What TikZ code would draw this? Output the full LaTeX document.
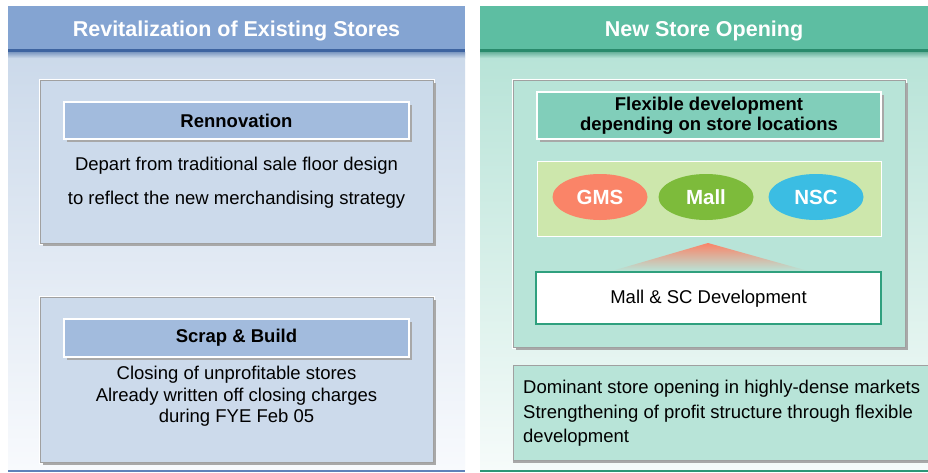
\documentclass[tikz,border=0pt]{standalone}
\usepackage{fontspec}
\setmainfont{Liberation Sans}
\usetikzlibrary{shapes.geometric,shadows}
\definecolor{lhead}{HTML}{84A4D2}
\definecolor{lheaddark}{HTML}{3E64A0}
\definecolor{lbodytop}{HTML}{CBD9EA}
\definecolor{lbodybot}{HTML}{F8FAFD}
\definecolor{lbox}{HTML}{CCDAEB}
\definecolor{ltitle}{HTML}{A2BBDD}
\definecolor{lline}{HTML}{5E82BA}
\definecolor{rhead}{HTML}{5DBEA2}
\definecolor{rheaddark}{HTML}{2A8A6C}
\definecolor{rbodytop}{HTML}{B7E3D7}
\definecolor{rbodybot}{HTML}{F6FBFA}
\definecolor{rbox}{HTML}{B8E4D8}
\definecolor{rtitle}{HTML}{81CEBA}
\definecolor{rgreen}{HTML}{CDE7AC}
\definecolor{gmscol}{HTML}{FA8468}
\definecolor{mallcol}{HTML}{7DBB3B}
\definecolor{nsccol}{HTML}{3BBDE3}
\definecolor{rborder}{HTML}{2FA07E}
\definecolor{rline}{HTML}{2E9678}
\definecolor{shadowgray}{HTML}{A8A8A8}
\definecolor{boxedge}{HTML}{A0A0A0}
\begin{document}
\begin{tikzpicture}[x=1pt,y=-1pt,
  headtext/.style={text=white,font=\fontsize{21.5}{26}\selectfont\bfseries},
  bodytext/.style={text=black,font=\fontsize{18.5}{21.5}\selectfont,align=center},
  outerbox/.style={rectangle,inner sep=0pt,draw=boxedge,line width=0.8pt,
     preaction={draw=white,line width=3pt},
     drop shadow={shadow xshift=2.5pt,shadow yshift=-2.5pt,fill=shadowgray,opacity=1}},
  titlebar/.style={rectangle,inner sep=0pt,draw=white,line width=1.2pt,
     drop shadow={shadow xshift=2.5pt,shadow yshift=-2.5pt,fill=shadowgray,opacity=1},
     font=\fontsize{18.5}{20}\selectfont\bfseries,align=center},
  oval/.style={ellipse,inner sep=0pt,minimum width=95pt,minimum height=46pt,
     text=white,font=\fontsize{20.5}{24}\selectfont\bfseries}]
\useasboundingbox (0,0) rectangle (928,472);
\fill[white] (0,0) rectangle (928,472);
% ---------- left panel ----------
\shade[top color=lbodytop,bottom color=lbodybot] (8,52) rectangle (465,470);
\fill[lhead] (8,6) rectangle (465,50);
\fill[lheaddark] (8,49) rectangle (465,52);
\shade[top color=lheaddark!55!lbodytop,bottom color=lbodytop] (8,52) rectangle (465,58);
\fill[lline] (8,469.5) rectangle (465,472);
\node[headtext] (lheadtxt) at (236.5,30.5) {Revitalization of Existing Stores};

\node[outerbox,fill=lbox,minimum width=393pt,minimum height=163pt] (renbox) at (236.5,161.5) {};
\node[titlebar,fill=ltitle,minimum width=345pt,minimum height=37pt] (rentitle) at (236.5,120.5) {Rennovation};
\node[bodytext,font=\fontsize{18.5}{34}\selectfont] (rentext) at (236.5,182.5) {Depart from traditional sale floor design\\to reflect the new merchandising strategy};

\node[outerbox,fill=lbox,minimum width=393pt,minimum height=165pt] (sbbox) at (236.5,379.5) {};
\node[titlebar,fill=ltitle,minimum width=345pt,minimum height=38pt] (sbtitle) at (236.5,338) {Scrap \& Build};
\node[bodytext] (sbtext) at (236.5,396.5) {Closing of unprofitable stores\\Already written off closing charges\\during FYE Feb 05};

% ---------- right panel ----------
\shade[top color=rbodytop,bottom color=rbodybot] (480,52) rectangle (928,470);
\fill[rhead] (480,6) rectangle (928,50);
\fill[rheaddark] (480,49) rectangle (928,52);
\shade[top color=rheaddark!55!rbodytop,bottom color=rbodytop] (480,52) rectangle (928,58);
\fill[rline] (480,469.5) rectangle (928,472);
\node[headtext] (rheadtxt) at (704,30.5) {New Store Opening};

\node[outerbox,fill=rbox,minimum width=392pt,minimum height=267pt] (flexbox) at (709,213.5) {};
\node[titlebar,fill=rtitle,minimum width=344pt,minimum height=47pt] (flextitle) at (709,115.5) {Flexible development\\depending on store locations};
\node[rectangle,fill=rgreen,draw=white,line width=1pt,minimum width=344pt,minimum height=75pt] (typesbox) at (709,198.5) {};
\node[oval,fill=gmscol] (gms) at (600,197) {GMS};
\node[oval,fill=mallcol] (mall) at (706,197) {Mall};
\node[oval,fill=nsccol] (nsc) at (816,197) {NSC};
\shade[top color=gmscol,bottom color=rbox] (708,243) -- (808,271) -- (612,271) -- cycle;
\node[rectangle,fill=white,draw=rborder,line width=1.5pt,minimum width=345pt,minimum height=52pt,
  text depth=2pt,font=\fontsize{18.5}{22}\selectfont] (mallsc) at (708.5,298) {Mall \& SC Development};

\node[rectangle,inner sep=0pt,fill=rbox,draw=boxedge,line width=0.8pt,minimum width=420pt,minimum height=95pt,
  drop shadow={shadow xshift=0pt,shadow yshift=-2.5pt,fill=shadowgray,opacity=1}] (domibox) at (723,412.5) {};
\node[anchor=west,align=left,font=\fontsize{18.5}{24.5}\selectfont,inner sep=0pt] (domitext) at (523,413.5)
  {Dominant store opening in highly-dense markets\\Strengthening of profit structure through flexible\\development};
\end{tikzpicture}
\end{document}
